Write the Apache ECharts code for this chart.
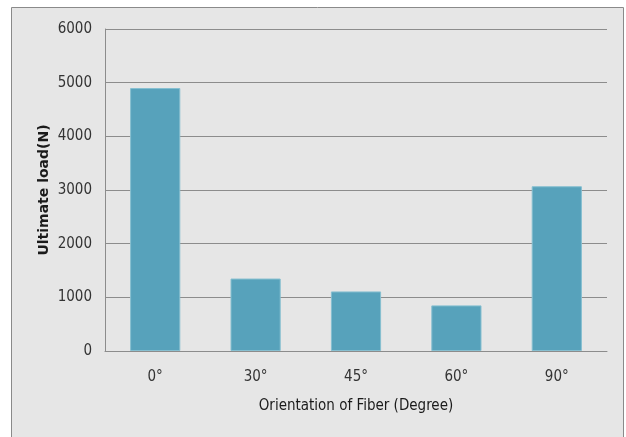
<!DOCTYPE html>
<html>
<head>
<meta charset="utf-8">
<script src="https://cdn.jsdelivr.net/npm/echarts@6/dist/echarts.min.js"></script>
<style>
html,body{margin:0;padding:0;background:#fff;}
#c{width:626px;height:437px;}
</style>
</head>
<body>
<div id="c"></div>
<script>
var categories = ['0°', '30°', '45°', '60°', '90°'];
var loads = [4900, 1350, 1110, 850, 3070];
var yTicks = [0, 1000, 2000, 3000, 4000, 5000, 6000];

var FONT = "'Liberation Sans Narrow', 'DejaVu Sans Condensed', 'Noto Sans', sans-serif";
var chart = echarts.init(document.getElementById('c'), null, {renderer: 'canvas'});
chart.setOption({
  backgroundColor: '#ffffff',
  animation: false,
  graphic: [{
    type: 'rect',
    z: -10,
    shape: {x: 11.5, y: 7.5, width: 612, height: 440},
    style: {fill: '#e6e6e6', stroke: '#8a8a8a', lineWidth: 1}
  }],
  grid: {left: 105, right: 19, top: 29, bottom: 86, containLabel: false},
  xAxis: {
    type: 'category',
    data: categories,
    axisLine: {show: true, lineStyle: {color: '#8c8c8c', width: 1}},
    axisTick: {show: false},
    axisLabel: {color: '#333', fontFamily: FONT, fontSize: 15, margin: 19},
    name: 'Orientation of Fiber (Degree)',
    nameLocation: 'middle',
    nameGap: 48,
    nameTextStyle: {color: '#1a1a1a', fontFamily: FONT, fontSize: 15}
  },
  yAxis: {
    type: 'value',
    min: yTicks[0],
    max: yTicks[yTicks.length - 1],
    interval: 1000,
    axisLine: {show: true, lineStyle: {color: '#8c8c8c', width: 1}},
    axisTick: {show: false},
    splitLine: {show: true, lineStyle: {color: '#8c8c8c', width: 1}},
    axisLabel: {color: '#333', fontFamily: FONT, fontSize: 15, margin: 13,
      formatter: function (v) { return String(v); }},
    name: 'Ultimate load(N)',
    nameLocation: 'middle',
    nameGap: 54,
    nameMoveOverlap: false,
    nameTextStyle: {color: '#1a1a1a', fontFamily: "'DejaVu Sans', sans-serif", fontSize: 14, fontWeight: 'bold'}
  },
  series: [{
    type: 'bar',
    data: loads,
    barWidth: '50%',
    itemStyle: {color: '#57a2bb', borderColor: '#86bfd0', borderWidth: 1}
  }]
});
</script>
</body>
</html>
